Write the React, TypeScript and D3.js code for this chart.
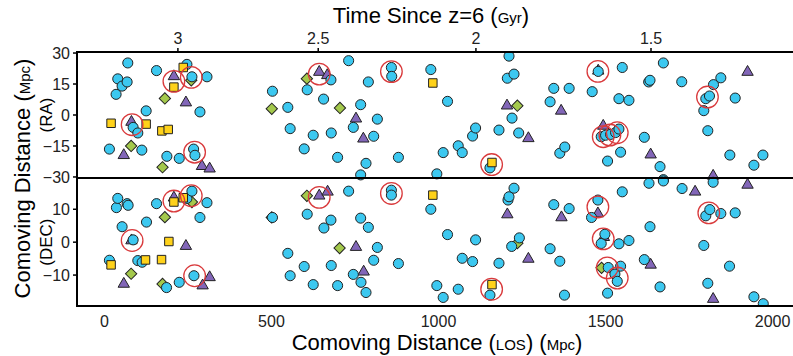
import React from "react";
import * as d3 from "d3";

// LOS distance (Mpc) vs RA offset (Mpc)
const raCircles = [
  [15, -16.5], [35, 10], [40, 17.5], [53, 14], [68, 16], [70, 25.2], [86, -6], [100, -8.7], [112, -17], [125, 2],
  [156, 21.5], [187, -20], [224, -21], [247, 24.5], [262, 18.5], [267, -16.5], [271, -19.5], [286, 1.5], [307, 18.5],
  [503, 11.5], [549, 3.7], [556, -6.6], [598, -16.4], [607, 12.2], [625, -9.8], [656, 7.7], [678, 17], [679, -8.7],
  [698, -20.5], [731, 26.3], [745, -6], [767, 5], [767, -29], [783, -23.4], [790, 16], [806, -10.3], [817, -2],
  [859, 23], [860, 18.7], [880, -20.5], [977, 22], [995, -28.5], [1014, -18.2],
  [1027, 6.6], [1059, -14.9], [1071, -18.2], [1102, -10.2], [1111, -6.3], [1154, -25.6], [1181, -7.3], [1206, 17.8],
  [1211, 28.5], [1220, -1.5], [1226, 19.8], [1240, -8.7], [1334, 6.4], [1345, 12.9], [1363, -18.5], [1378, -15.5],
  [1391, 12.9], [1460, 11.3], [1478, 21.1], [1487, -10.5], [1500, -9.8], [1506, -22.3], [1515, -9.4], [1530, -8.5],
  [1540, -6.8], [1540, 7.9], [1545, -18], [1550, 23], [1570, 7.1], [1616, -10.8], [1629, 16], [1633, 16.8],
  [1663, -25], [1673, 25.2], [1673, -31.3], [1728, 16.1], [1794, 2.1], [1800, 7.9], [1806, -7.6], [1811, 9.2],
  [1823, 14.7], [1845, 18], [1872, -19.4], [1888, 8.2], [1944, -24.3], [1971, -19.4],
];
const raSquares = [[20, -4], [125, -4.4], [172, -7.7], [191, -7], [208, 13.5], [236, 23], [983, 15.5], [1160, -23]];
const raTriangles = [
  [58, -19.5], [81, -3.4], [208, 18.7], [244, 6], [292, -24.8], [315, -26], [643, 20.8], [667, 19.2], [753, -1.8],
  [775, -11.5], [1205, 4.5], [1269, -11.3], [1367, 2], [1478, 21.4], [1493, -5.3], [1635, -19.2], [1768, 32.3],
  [1822, -29.5], [1925, 20.8],
];
const raDiamonds = [[80, -15], [174, -25.3], [181, 8], [260, 16.8], [501, 3], [606, 17.6], [705, 3.4], [1236, 4.5]];
const raRings = [
  [83, -4.7], [208, 16.3], [260, 18.2], [270, -18], [643, 19.8], [859, 21], [1159, -24], [1477, 21.1],
  [1493, -10.5], [1513, -9.7], [1535, -8.6], [1805, 8.7],
];

// LOS distance (Mpc) vs DEC offset (Mpc)
const decCircles = [
  [15, -5.5], [36, 10.5], [40, 13.3], [53, 4.7], [68, 11.7], [71, 11.2], [86, 0.7], [100, -5.6], [113, -6.1], [126, 6.1],
  [156, 11.7], [186, -13.8], [224, -12.2], [247, 13.3], [262, 15.5], [268, -10.2], [286, 7.5], [307, 12],
  [503, 7.5], [549, -3.4], [556, -10.2], [598, -7.4], [607, 8.5], [625, -12.9], [657, 4.3], [678, 6.7], [679, -7.1],
  [698, -13.2], [731, 15.5], [745, -9.8], [767, 7.3], [768, -12.2], [783, -15.3], [790, 4.5], [806, -5.5], [817, -1.6],
  [859, 15.8], [859, 14.3], [880, -6.5], [977, 10], [995, -13.2], [1014, -16.8],
  [1027, 2.3], [1059, -14.3], [1071, -4.9], [1102, -5.9], [1111, 0.7], [1154, -16.1], [1181, -6.4], [1208, 12.8],
  [1211, 13.8], [1219, -1.3], [1226, 16.4], [1242, 1.3], [1334, -2], [1345, 11.4], [1363, -5.8], [1377, -16.1],
  [1391, 10.2], [1458, 7.5], [1477, 12.8], [1487, -0.4], [1498, 2.4], [1506, -15.5], [1508, -7.7], [1528, -9.7],
  [1535, -11.9], [1545, -7.3], [1540, -0.5], [1550, 15.3], [1570, 0.5], [1616, -5.3], [1630, 17.9], [1633, 4.7],
  [1663, -13.6], [1673, 18.6], [1729, 16.3], [1794, -1], [1800, 8], [1806, -12.5], [1812, 9.9], [1822, 18.2],
  [1845, 8.7], [1871, -7.3], [1888, 8.9], [1944, -16.6], [1972, -18.7],
];
const decSquares = [[20, -6.9], [123, -5.4], [171, -5.3], [193, 0.2], [208, 12.2], [236, 13.5], [983, 14.3], [1160, -12.9]];
const decTriangles = [
  [58, -12.7], [81, 0.5], [208, 13.5], [244, -1.2], [294, -13.2], [315, -10.7], [643, 14.1], [668, 15.3], [753, -1.5],
  [776, -9], [1206, 8.4], [1269, -5.1], [1368, 7.5], [1477, 8.7], [1495, 1.5], [1635, -6.9], [1768, 15.3],
  [1822, -17.3], [1925, 17.4],
];
const decDiamonds = [[80, -9.6], [174, -12.7], [181, 7.6], [262, 12.2], [501, 7.5], [606, 14.1], [704, -1.8], [1236, -0.3], [1488, -7.8]];
const decRings = [
  [83, 0.5], [208, 12.5], [260, 14.1], [270, -10.2], [643, 13.6], [859, 14.8], [1159, -14.3], [1477, 10.7],
  [1493, 1], [1505, -7.8], [1535, -10.9], [1809, 8.9],
];

const losTicks = [0, 500, 1000, 1500, 2000];
const raTicks = [30, 15, 0, -15, -30];
const decTicks = [10, 0, -10];
const timeTickLabels = ["3", "2.5", "2", "1.5"];
const timeTickLos = [220, 640, 1112, 1636];

const FONT = "'Liberation Sans', Arial, sans-serif";
const C_CYAN = "#3cc8f0";
const C_PURPLE = "#8266b8";
const C_GREEN = "#a4c94c";
const C_YELLOW = "#ffd21a";
const C_RING = "#d93a3c";

export default function App() {
  const left = 77, right = 793, top = 52, mid = 178, bottom = 306;
  const x = d3.scaleLinear().domain([-82, 2061]).range([left, right]);
  const yRA = d3.scaleLinear().domain([-30.5, 30.5]).range([mid, top]);
  const yDEC = d3.scaleLinear().domain([-19.4, 19.5]).range([bottom, mid]);

  const circle = d3.symbol().type(d3.symbolCircle).size(80)() as string;
  const square = d3.symbol().type(d3.symbolSquare).size(72)() as string;
  const diamond = d3.symbol().type(d3.symbolSquare).size(64)() as string;
  const triangle = d3.symbol().type(d3.symbolTriangle).size(56)() as string;

  const panel = (y: any, circles: number[][], squares: number[][], triangles: number[][], diamonds: number[][], rings: number[][]) => (
    <g>
      {diamonds.map((d, i) => (
        <path key={"d" + i} d={diamond} transform={`translate(${x(d[0])},${y(d[1])}) rotate(45)`} fill={C_GREEN} stroke="#222" strokeWidth={1} />
      ))}
      {triangles.map((d, i) => (
        <path key={"t" + i} d={triangle} transform={`translate(${x(d[0])},${y(d[1])})`} fill={C_PURPLE} stroke="#222" strokeWidth={1} />
      ))}
      {circles.map((d, i) => (
        <path key={"c" + i} d={circle} transform={`translate(${x(d[0])},${y(d[1])})`} fill={C_CYAN} stroke="#222" strokeWidth={1} />
      ))}
      {squares.map((d, i) => (
        <path key={"s" + i} d={square} transform={`translate(${x(d[0])},${y(d[1])})`} fill={C_YELLOW} stroke="#222" strokeWidth={1} />
      ))}
      {rings.map((d, i) => (
        <circle key={"r" + i} cx={x(d[0])} cy={y(d[1])} r={10.8} fill="none" stroke={C_RING} strokeWidth={1.3} />
      ))}
    </g>
  );

  return (
    <div style={{ position: "absolute", left: 0, top: 0 }}>
      <svg width={793} height={356} style={{ display: "block", fontFamily: FONT }}>
        <defs>
          <clipPath id="plotClip">
            <rect x={left} y={top} width={right - left} height={bottom - top} />
          </clipPath>
        </defs>
        <rect width={793} height={356} fill="#fff" />

        <g clipPath="url(#plotClip)">
          {panel(yRA, raCircles, raSquares, raTriangles, raDiamonds, raRings)}
          {panel(yDEC, decCircles, decSquares, decTriangles, decDiamonds, decRings)}
        </g>

        {/* frame */}
        <line x1={left} x2={right} y1={top} y2={top} stroke="#000" strokeWidth={2} />
        <line x1={left} x2={right} y1={mid} y2={mid} stroke="#000" strokeWidth={2} />
        <line x1={left} x2={right} y1={bottom} y2={bottom} stroke="#000" strokeWidth={2} />
        <line x1={left} x2={left} y1={top - 1} y2={bottom + 1} stroke="#000" strokeWidth={2} />

        {/* left ticks */}
        {raTicks.map((t) => (
          <g key={"ra" + t}>
            <line x1={left - 4} x2={left} y1={yRA(t)} y2={yRA(t)} stroke="#000" strokeWidth={1.5} />
            <text x={left - 7} y={yRA(t)} dy="0.36em" textAnchor="end" fontSize={16} fill="#222">
              {t < 0 ? "\u2212" + Math.abs(t) : t}
            </text>
          </g>
        ))}
        {decTicks.map((t) => (
          <g key={"dec" + t}>
            <line x1={left - 4} x2={left} y1={yDEC(t)} y2={yDEC(t)} stroke="#000" strokeWidth={1.5} />
            <text x={left - 7} y={yDEC(t)} dy="0.36em" textAnchor="end" fontSize={16} fill="#222">
              {t < 0 ? "\u2212" + Math.abs(t) : t}
            </text>
          </g>
        ))}

        {/* bottom ticks */}
        {losTicks.map((t) => (
          <text key={"los" + t} x={x(t)} y={327} textAnchor="middle" fontSize={16} fill="#222">{t}</text>
        ))}

        {/* top (time) ticks */}
        {timeTickLos.map((d, i) => (
          <g key={"tt" + i}>
            <line x1={x(d)} x2={x(d)} y1={top - 4} y2={top} stroke="#000" strokeWidth={1.5} />
            <text x={x(d)} y={43.5} textAnchor="middle" fontSize={16} fill="#222">{timeTickLabels[i]}</text>
          </g>
        ))}

        {/* titles */}
        <text x={431} y={23} textAnchor="middle" fontSize={22} fill="#000">
          Time Since z=6 (<tspan fontSize={15}>Gyr</tspan>)
        </text>
        <text x={437} y={350} textAnchor="middle" fontSize={22} fill="#000">
          Comoving Distance (<tspan fontSize={15}>LOS</tspan>) (<tspan fontSize={15}>Mpc</tspan>)
        </text>
        <text transform="translate(30,178.5) rotate(-90)" textAnchor="middle" fontSize={22} fill="#000">
          Comoving Distance (<tspan fontSize={15}>Mpc</tspan>)
        </text>
        <text transform={`translate(52,${yRA(0)}) rotate(-90)`} textAnchor="middle" fontSize={17} fill="#000">(RA)</text>
        <text transform={`translate(52,${yDEC(0)}) rotate(-90)`} textAnchor="middle" fontSize={17} fill="#000">(DEC)</text>
      </svg>
    </div>
  );
}
